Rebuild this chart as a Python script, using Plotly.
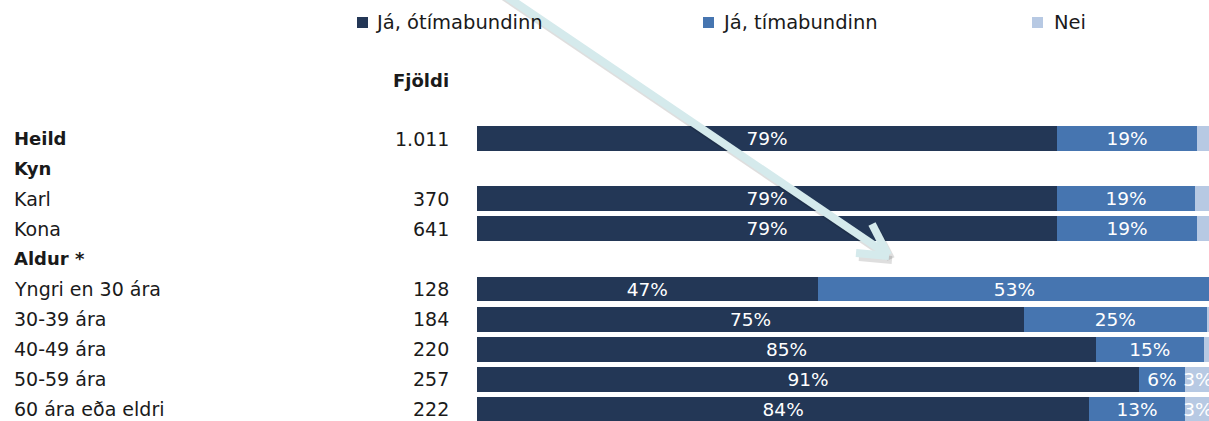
import plotly.graph_objects as go

# rows of the table (headers have no bar)
rows = ["Heild", "Kyn", "Karl", "Kona", "Aldur *", "Yngri en 30 ára",
        "30-39 ára", "40-49 ára", "50-59 ára", "60 ára eða eldri"]
is_header = [True, True, False, False, True, False, False, False, False, False]
counts = ["1.011", "", "370", "641", "", "128", "184", "220", "257", "222"]

series = ["Já, ótímabundinn", "Já, tímabundinn", "Nei"]
# bar lengths (%)
ja_otima = [79.0, None, 79.0, 79.0, None, 46.4, 74.5, 84.3, 90.2, 83.4]
ja_tima = [19.1, None, 18.8, 19.1, None, 53.6, 24.9, 14.7, 6.2, 13.0]
nei = [1.9, None, 2.2, 1.9, None, 0.0, 0.6, 1.0, 3.6, 3.6]
# printed labels
lab_otima = ["79%", "", "79%", "79%", "", "47%", "75%", "85%", "91%", "84%"]
lab_tima = ["19%", "", "19%", "19%", "", "53%", "25%", "15%", "6%", "13%"]
lab_nei = ["", "", "", "", "", "", "", "", "3%", "3%"]

colors = ["#233756", "#4675b0", "#b7c9e3"]
FONT = "DejaVu Sans"
TXT = "#1a1a1a"
W, H = 1209, 421


def px(x, y):
    # page pixel -> paper coords
    return x / W, 1 - y / H


ypos = list(range(len(rows)))
fig = go.Figure()
for name, vals, labs, col in zip(series, [ja_otima, ja_tima, nei],
                                 [lab_otima, lab_tima, lab_nei], colors):
    fig.add_trace(go.Bar(
        y=ypos, x=vals, name=name, orientation="h",
        marker=dict(color=col, line=dict(width=0)),
        text=labs, textposition="inside", insidetextanchor="middle",
        textangle=0, textfont=dict(family=FONT, size=18.5, color="white"),
        width=0.83, showlegend=False,
    ))

ann = []
for i, r in enumerate(rows):
    ann.append(dict(xref="paper", yref="y", x=px(12, 0)[0], y=i,
                    text=f"<b>{r}</b>" if is_header[i] else r,
                    xanchor="left", yanchor="middle", showarrow=False,
                    font=dict(family=FONT, size=18 if is_header[i] else 19, color=TXT)))
    if counts[i]:
        ann.append(dict(xref="paper", yref="y", x=px(451, 0)[0], y=i, text=counts[i],
                        xanchor="right", yanchor="middle", showarrow=False,
                        font=dict(family=FONT, size=19, color=TXT)))

fx, fy = px(451, 81)
ann.append(dict(xref="paper", yref="paper", x=fx, y=fy, text="<b>Fjöldi</b>",
                xanchor="right", yanchor="middle", showarrow=False,
                font=dict(family=FONT, size=18, color=TXT)))

shapes = []
# legend
for name, col, sx, tx in zip(series, colors, [357, 703, 1032], [373, 720, 1052]):
    x0, y0 = px(sx, 17)
    x1, y1 = px(sx + 11, 28)
    shapes.append(dict(type="rect", xref="paper", yref="paper", x0=x0, y0=y0, x1=x1, y1=y1,
                       fillcolor=col, line=dict(width=0)))
    ax, ay = px(tx, 23)
    ann.append(dict(xref="paper", yref="paper", x=ax, y=ay, text=name, xanchor="left",
                    yanchor="middle", showarrow=False,
                    font=dict(family=FONT, size=19.5, color=TXT)))

# pointer arrow drawn over the chart
segs = [((500, -8), (884, 252)), ((872, 224), (888, 255)), ((856, 253), (889, 256))]
for off, col in [((3, 4), "rgba(0,0,0,0.13)"), ((0, 0), "#d5eaec")]:
    for (a, b) in segs:
        x0, y0 = px(a[0] + off[0], a[1] + off[1])
        x1, y1 = px(b[0] + off[0], b[1] + off[1])
        shapes.append(dict(type="line", xref="paper", yref="paper", x0=x0, y0=y0, x1=x1, y1=y1,
                           line=dict(color=col, width=8), layer="above"))

# axis placement: bars start at x 477, 100% ~ x 1211;
# row i centred at y 138.5 + 30.1 * i
x_left = px(477, 0)[0]
x_max = (W - 477) / 7.342
y_top = -138.5 / 30.1
y_bot = (H - 138.5) / 30.1

fig.update_layout(
    width=W, height=H, barmode="stack",
    margin=dict(l=0, r=0, t=0, b=0),
    paper_bgcolor="white", plot_bgcolor="white",
    xaxis=dict(domain=[x_left, 1], range=[0, x_max], visible=False, fixedrange=True),
    yaxis=dict(range=[y_bot, y_top], visible=False, fixedrange=True),
    uniformtext=dict(minsize=18.5, mode="show"),
    annotations=ann, shapes=shapes,
    font=dict(family=FONT),
)

# drop the default body margin so the figure fills the window
fig.write_html("out.html", config={"displayModeBar": False},
               post_script="document.body.style.margin='0';")
